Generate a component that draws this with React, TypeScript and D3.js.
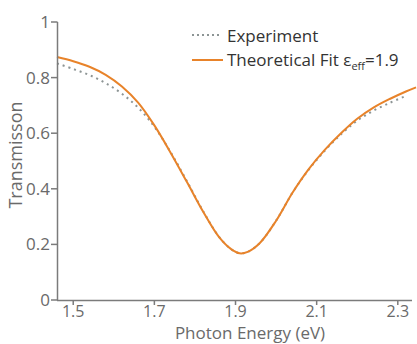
import React, { useEffect, useRef } from 'react';
import * as d3 from 'd3';

// photon energy (eV) and transmission
const fitEnergy = [1.46, 1.5, 1.54, 1.58, 1.62, 1.66, 1.7, 1.74, 1.78, 1.82, 1.86, 1.89, 1.91, 1.93, 1.96, 2.0, 2.04, 2.08, 2.12, 2.16, 2.2, 2.24, 2.28, 2.32, 2.345];
const fitValues = [0.874, 0.859, 0.839, 0.81, 0.768, 0.71, 0.628, 0.53, 0.425, 0.318, 0.225, 0.182, 0.168, 0.173, 0.205, 0.285, 0.385, 0.47, 0.54, 0.6, 0.652, 0.692, 0.723, 0.75, 0.765];

const expEnergy = [1.46, 1.5, 1.54, 1.58, 1.62, 1.66, 1.7, 1.74, 1.78, 1.82, 1.86, 1.89, 1.91, 1.93, 1.96, 2.0, 2.04, 2.08, 2.12, 2.16, 2.2, 2.24, 2.28, 2.315];
const expValues = [0.851, 0.831, 0.809, 0.78, 0.742, 0.692, 0.623, 0.532, 0.428, 0.32, 0.226, 0.182, 0.168, 0.173, 0.205, 0.285, 0.385, 0.468, 0.537, 0.596, 0.645, 0.681, 0.709, 0.731];

const xTicks = [1.5, 1.7, 1.9, 2.1, 2.3];
const yTicks = [0, 0.2, 0.4, 0.6, 0.8, 1];

const App = () => {
  const ref = useRef<SVGSVGElement>(null);

  useEffect(() => {
    const svg = d3.select(ref.current);
    svg.selectAll('*').remove();

    const font = "'Open Sans', sans-serif";
    const axisColor = '#7b7b7b';
    const textColor = '#6a6a6a';

    const x = d3.scaleLinear().domain([1.46, 2.335]).range([57, 412]);
    const y = d3.scaleLinear().domain([0, 1]).range([300, 22]);

    const line = d3.line<[number, number]>()
      .x(d => x(d[0]))
      .y(d => y(d[1]))
      .curve(d3.curveCatmullRom.alpha(0.5));

    const expData: [number, number][] = expEnergy.map((e, i) => [e, expValues[i]]);
    const fitData: [number, number][] = fitEnergy.map((e, i) => [e, fitValues[i]]);

    // Experiment (dotted)
    svg.append('path')
      .attr('d', line(expData))
      .attr('fill', 'none')
      .attr('stroke', '#8d9595')
      .attr('stroke-width', 2)
      .attr('stroke-dasharray', '2,4');

    // Theoretical fit
    svg.append('path')
      .attr('d', line(fitData))
      .attr('fill', 'none')
      .attr('stroke', '#e8832a')
      .attr('stroke-width', 2);

    // Axes
    const g = svg.append('g');
    g.append('line')
      .attr('x1', 57.5).attr('x2', 57.5)
      .attr('y1', y(1)).attr('y2', 300.5)
      .attr('stroke', axisColor).attr('stroke-width', 1.5);
    g.append('line')
      .attr('x1', 57).attr('x2', 412)
      .attr('y1', 300.5).attr('y2', 300.5)
      .attr('stroke', axisColor).attr('stroke-width', 1.5);

    yTicks.forEach(t => {
      g.append('line')
        .attr('x1', 51).attr('x2', 57.5)
        .attr('y1', y(t)).attr('y2', y(t))
        .attr('stroke', axisColor).attr('stroke-width', 1.5);
      g.append('text')
        .attr('x', 50).attr('y', y(t))
        .attr('dy', '0.35em')
        .attr('text-anchor', 'end')
        .attr('font-family', font).attr('font-size', 17)
        .attr('fill', textColor)
        .text(t === 0 || t === 1 ? String(t) : t.toFixed(1));
    });

    xTicks.forEach(t => {
      g.append('line')
        .attr('x1', x(t)).attr('x2', x(t))
        .attr('y1', 300.5).attr('y2', 305)
        .attr('stroke', axisColor).attr('stroke-width', 1.5);
      g.append('text')
        .attr('x', x(t)).attr('y', 317)
        .attr('text-anchor', 'middle')
        .attr('font-family', font).attr('font-size', 16)
        .attr('fill', textColor)
        .text(t.toFixed(1));
    });

    // Axis titles
    svg.append('text')
      .attr('x', 250).attr('y', 339)
      .attr('text-anchor', 'middle')
      .attr('font-family', font).attr('font-size', 17)
      .attr('fill', textColor)
      .text('Photon Energy (eV)');

    svg.append('text')
      .attr('transform', 'translate(22,155) rotate(-90)')
      .attr('text-anchor', 'middle')
      .attr('font-family', font).attr('font-size', 18)
      .attr('fill', textColor)
      .text('Transmisson');

    // Legend
    const legend = svg.append('g');
    legend.append('line')
      .attr('x1', 192).attr('x2', 222)
      .attr('y1', 35).attr('y2', 35)
      .attr('stroke', '#8d9595').attr('stroke-width', 2)
      .attr('stroke-dasharray', '2,3');
    legend.append('text')
      .attr('x', 227).attr('y', 42)
      .attr('font-family', font).attr('font-size', 17)
      .attr('fill', '#333')
      .text('Experiment');

    legend.append('line')
      .attr('x1', 192).attr('x2', 223)
      .attr('y1', 60).attr('y2', 60)
      .attr('stroke', '#e8832a').attr('stroke-width', 2);
    const fitLabel = legend.append('text')
      .attr('x', 227).attr('y', 66)
      .attr('font-family', font).attr('font-size', 17)
      .attr('fill', '#333');
    fitLabel.append('tspan').text('Theoretical Fit ε');
    fitLabel.append('tspan').attr('font-size', 11).attr('dy', 4).text('eff');
    fitLabel.append('tspan').attr('dy', -4).text('=1.9');
  }, []);

  return (
    <svg
      ref={ref}
      width={417}
      height={344}
      style={{ position: 'absolute', left: 0, top: 0, background: '#fff' }}
    />
  );
};

export default App;
